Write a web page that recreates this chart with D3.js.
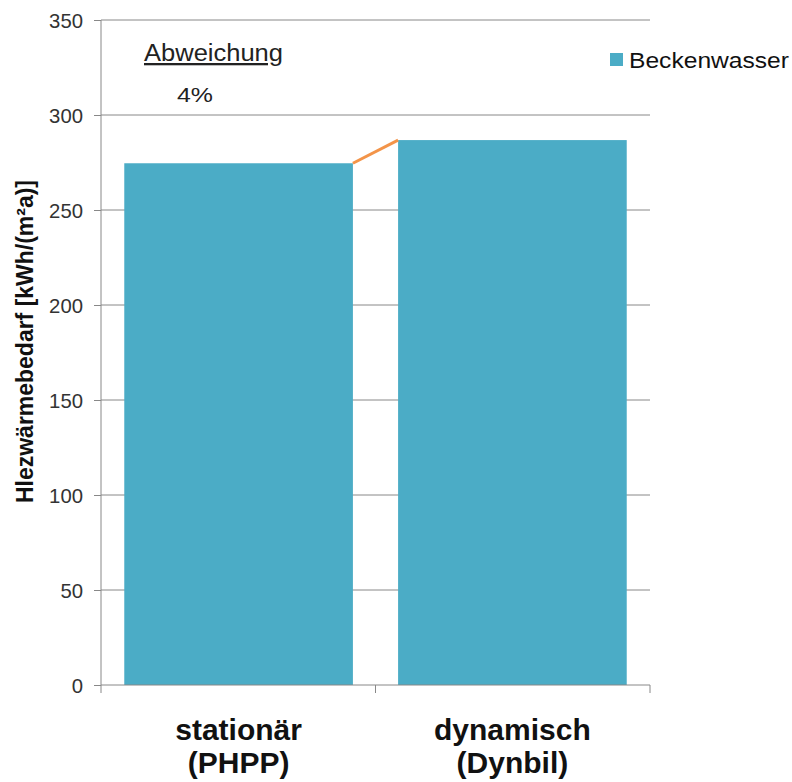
<!DOCTYPE html>
<html><head><meta charset="utf-8">
<script src="https://cdn.jsdelivr.net/npm/d3@7"></script>
<style>body{margin:0;background:#fff}svg{display:block}text{font-family:"Liberation Sans",Arial,sans-serif}</style>
</head><body>
<script>
const categories = [["stationär","(PHPP)"],["dynamisch","(Dynbil)"]];
const values = [274.6, 286.8];
const seriesName = "Beckenwasser";
const yTicks = [0,50,100,150,200,250,300,350];
const deviationLabel = "Abweichung";
const deviationValue = "4%";

const W=792,H=782;
const m={left:101,right:142,top:20,bottom:97};
const svg=d3.select("body").append("svg").attr("width",W).attr("height",H);
const x=d3.scaleBand().domain(d3.range(categories.length)).range([m.left,W-m.right]).paddingInner(0.165).paddingOuter(0.085);
const y=d3.scaleLinear().domain([0,350]).range([H-m.bottom,m.top]);
const axisCol="#888";

// grid
svg.append("g").selectAll("line").data(yTicks.filter(d=>d>0)).join("line")
 .attr("x1",m.left).attr("x2",W-m.right).attr("y1",d=>y(d)).attr("y2",d=>y(d))
 .attr("stroke",axisCol).attr("stroke-width",1);

// bars
svg.append("g").selectAll("rect").data(values).join("rect")
 .attr("x",(d,i)=>x(i)).attr("width",x.bandwidth())
 .attr("y",d=>y(d)).attr("height",d=>y(0)-y(d)).attr("fill","#4bacc6");

// connector
svg.append("line").attr("x1",x(0)+x.bandwidth()).attr("y1",y(values[0]))
 .attr("x2",x(1)).attr("y2",y(values[1])).attr("stroke","#f39449").attr("stroke-width",3);

// y axis
const ya=svg.append("g").attr("transform",`translate(${m.left},0)`)
 .call(d3.axisLeft(y).tickValues(yTicks).tickSize(7).tickFormat(""));
ya.select(".domain").attr("stroke",axisCol).attr("d",`M0,${y(350)}V${y(0)}`);
ya.selectAll(".tick line").attr("stroke",axisCol);
ya.selectAll(".tick text").remove();
svg.append("g").selectAll("text").data(yTicks).join("text")
 .attr("x",m.left-18).attr("y",d=>y(d)+7.5).attr("text-anchor","end")
 .attr("font-size",21).attr("fill","#333")
 .attr("textLength",d=>String(d).length*11.3).attr("lengthAdjust","spacingAndGlyphs")
 .text(d=>d);

// x axis
const xa=svg.append("g").attr("transform",`translate(0,${y(0)})`);
xa.append("line").attr("x1",m.left).attr("x2",W-m.right).attr("stroke",axisCol);
const bounds=[m.left, (x(0)+x.bandwidth()+x(1))/2, W-m.right];
xa.selectAll(".xt").data(bounds).join("line").attr("class","xt")
 .attr("x1",d=>d).attr("x2",d=>d).attr("y1",0).attr("y2",8).attr("stroke",axisCol);
const cl=svg.append("g").selectAll("text").data(categories).join("text")
 .attr("text-anchor","middle")
 .attr("font-size",30).attr("font-weight","bold").attr("fill","#111");
cl.append("tspan").attr("x",(d,i)=>x(i)+x.bandwidth()/2).attr("y",740).text(d=>d[0]);
cl.append("tspan").attr("x",(d,i)=>x(i)+x.bandwidth()/2).attr("y",773).text(d=>d[1]);

// y title
svg.append("text").attr("transform",`translate(33,${341.5}) rotate(-90)`)
 .attr("text-anchor","middle").attr("font-size",23).attr("font-weight","bold").attr("fill","#111")
 .attr("textLength",323).attr("lengthAdjust","spacingAndGlyphs")
 .text("Hlezwärmebedarf [kWh/(m²a)]");

// annotation
svg.append("text").attr("x",144).attr("y",61).attr("font-size",23).attr("fill","#222")
 .attr("text-decoration","underline").attr("textLength",139).attr("lengthAdjust","spacingAndGlyphs").text(deviationLabel+" ");
svg.append("text").attr("x",177).attr("y",102).attr("font-size",21).attr("fill","#222")
 .attr("textLength",36).attr("lengthAdjust","spacingAndGlyphs").text(deviationValue);

// legend
svg.append("rect").attr("x",610).attr("y",53).attr("width",13).attr("height",13).attr("fill","#4bacc6");
svg.append("text").attr("x",629).attr("y",68).attr("font-size",22).attr("fill","#111")
 .attr("textLength",160).attr("lengthAdjust","spacingAndGlyphs").text(seriesName);
</script>
</body></html>
